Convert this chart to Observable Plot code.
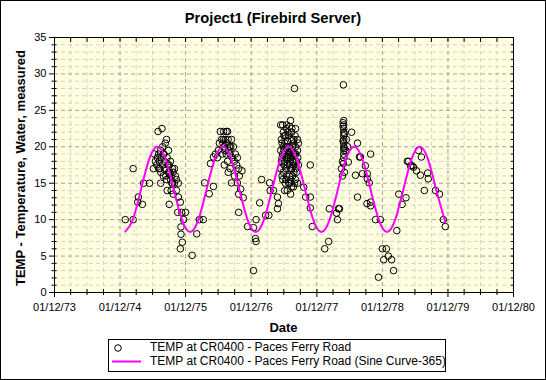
<!DOCTYPE html>
<html><head><meta charset="utf-8">
<script src="https://cdn.jsdelivr.net/npm/d3@7"></script>
<script src="https://cdn.jsdelivr.net/npm/@observablehq/plot@0.6"></script>
<style>
body{margin:0;background:#fff;}
#wrap{position:relative;width:546px;height:380px;overflow:hidden;font-family:"Liberation Sans",Arial,sans-serif;color:#000;}
#chart{position:absolute;left:0;top:0;}
#frame{position:absolute;left:0;top:0;width:546px;height:380px;box-sizing:border-box;border:1px solid #000;pointer-events:none;}
#title{position:absolute;top:10px;left:0;width:546px;text-align:center;font-size:14.7px;font-weight:bold;line-height:17px;}
#ylab{position:absolute;left:20px;top:168px;transform:translate(-50%,-50%) rotate(-90deg);font-size:13px;font-weight:bold;white-space:nowrap;}
#xlab{position:absolute;top:320px;left:283.5px;transform:translateX(-50%);font-size:13px;font-weight:bold;}
#legend{position:absolute;left:108px;top:339px;width:338px;height:33px;box-sizing:border-box;border:1px solid #000;font-size:12px;}
#legend svg{position:absolute;left:0;top:0;}
.lt{position:absolute;left:41px;white-space:nowrap;line-height:13px;}
</style></head>
<body><div id="wrap">
<div id="chart"></div>
<div id="title"></div>
<div id="ylab"></div>
<div id="xlab"></div>
<div id="legend"><svg width="336" height="31"><circle cx="9" cy="8" r="3.3" fill="none" stroke="#000"/><line x1="3" x2="32" y1="21.5" y2="21.5" stroke="#ff00ff" stroke-width="2"/></svg>
<div class="lt" id="l1" style="top:1px"></div><div class="lt" id="l2" style="top:15px"></div></div>
<div id="frame"></div>
</div>
<script>
const titleText = "Project1 (Firebird Server)";
const yLabel = "TEMP - Temperature, Water, measured";
const xLabel = "Date";
const seriesNames = ["TEMP at CR0400 - Paces Ferry Road", "TEMP at CR0400 - Paces Ferry Road (Sine Curve-365)"];
const xTickDates = ["1973-01-12","1974-01-12","1975-01-12","1976-01-12","1977-01-12","1978-01-12","1979-01-12","1980-01-12"];
const xTickLabels = ["01/12/73","01/12/74","01/12/75","01/12/76","01/12/77","01/12/78","01/12/79","01/12/80"];
const yTicks = [0,5,10,15,20,25,30,35];

// measured observations: sample time (decimal year) and temperature
const obsYear = [
1974.11,1974.23,1974.23,1974.30,1974.31,1974.37,1974.39,1974.48,
1974.54,1974.555,1974.57,1974.59,1974.61,1974.60,1974.62,1974.62,1974.63,1974.65,1974.65,1974.65,1974.67,1974.66,1974.68,1974.68,1974.69,1974.69,1974.71,1974.72,1974.72,1974.74,1974.74,1974.75,1974.75,1974.77,1974.77,1974.78,1974.78,1974.80,1974.80,1974.81,1974.81,1974.83,1974.83,1974.84,1974.84,1974.86,1974.86,1974.875,1974.89,1974.89,1974.91,1974.92,1974.92,1974.95,1974.97,1974.96,1974.96,1974.98,1974.95,1975.00,1975.03,
1974.64,1974.70,1974.73,1974.76,1974.79,1974.82,
1975.13,1975.20,1975.24,1975.30,1975.32,1975.39,1975.455,1975.41,1975.455,1975.485,1975.515,1975.53,1975.545,1975.56,1975.58,1975.59,1975.61,1975.61,1975.62,1975.64,1975.65,1975.67,1975.65,1975.67,1975.68,1975.70,1975.71,1975.71,1975.73,1975.745,1975.73,1975.76,1975.775,1975.775,1975.79,1975.82,1975.81,1975.82,1975.84,1975.84,1975.87,1975.89,1975.84,1975.85,1975.91,1975.975,1976.065,1976.095,1976.105,1976.105,1976.065,1976.16,1976.19,1976.25,1976.30,1976.31,1976.32,1976.37,1976.43,1976.445,1976.43,
1975.60,1975.63,1975.66,1975.69,1975.72,1975.62,1975.68,
1976.48,1976.63,1976.69,1976.52,1976.57,1976.60,1976.645,1976.675,1976.705,1976.49,1976.54,1976.58,1976.615,1976.66,1976.705,1976.735,1976.48,1976.51,1976.55,1976.60,1976.63,1976.675,1976.72,1976.75,1976.49,1976.54,1976.58,1976.63,1976.675,1976.72,1976.48,1976.52,1976.57,1976.615,1976.66,1976.705,1976.51,1976.55,1976.60,1976.645,1976.69,1976.54,1976.58,1976.63,1976.735,1976.75,1976.57,1976.615,1976.645,1976.69,1976.52,1976.57,1976.66,1976.615,1976.55,1976.51,1976.735,1976.63,1976.675,1976.58,
1976.50,1976.53,1976.56,1976.59,1976.62,1976.65,1976.68,1976.71,1976.50,1976.53,1976.56,1976.59,1976.62,1976.65,1976.68,1976.71,1976.74,1976.50,1976.56,1976.62,1976.68,1976.53,1976.59,1976.65,1976.70,
1976.83,1976.86,1976.93,1976.93,1976.96,1976.93,
1977.15,1977.21,1977.22,1977.33,1977.345,1977.36,1977.375,1977.405,1977.435,1977.435,1977.44,1977.44,1977.44,1977.44,1977.44,1977.44,1977.44,1977.44,1977.44,1977.44,1977.44,1977.42,1977.45,1977.42,1977.51,1977.56,1977.65,1977.48,1977.50,1977.47,
1977.43,1977.45,1977.43,1977.45,1977.43,
1977.65,1977.62,1977.695,1977.725,1977.68,1977.77,1977.80,1977.80,1977.83,1977.795,1977.85,1977.85,1977.85,1977.925,1978.00,1978.03,1978.09,1978.05,1978.12,1978.17,1978.20,1977.97,1978.25,1978.28,1978.33,1978.39,1978.41,1978.43,1978.46,1978.48,1978.505,1978.55,1978.58,1978.61,1978.625,1978.67,1978.72,1978.73,1978.84,1978.90,1978.96,1978.99
];
const obsTemp = [
10.0,10.0,17.0,12.4,13.1,12.1,15.0,15.0,
17.0,19.0,18.0,17.5,22.1,18.5,19.0,17.0,18.0,19.5,16.5,15.0,22.5,18.5,17.5,20.0,19.0,16.0,18.0,17.0,20.5,21.0,15.5,18.5,14.0,16.5,19.5,12.1,17.5,15.5,18.0,16.0,14.0,17.0,15.0,16.5,13.5,15.0,17.0,16.0,14.0,15.5,11.0,13.1,15.0,12.4,11.0,9.0,8.0,6.9,6.0,10.0,11.0,
17.0,19.0,16.0,17.5,16.5,15.0,
5.1,8.05,10.0,10.0,15.05,13.55,14.55,17.7,18.6,19.0,18.5,19.5,20.5,22.1,21.0,19.0,21.0,22.1,20.0,21.0,22.1,22.1,19.0,18.0,21.0,20.0,19.0,17.0,21.0,18.5,15.05,20.0,18.0,16.0,19.0,15.05,17.5,18.5,17.0,13.5,14.2,16.7,11.0,16.0,13.0,9.05,8.9,7.4,7.0,10.0,3.0,12.3,15.5,10.6,10.6,15.05,14.0,14.0,13.1,12.2,11.5,
20.5,19.5,20.5,19.5,20.0,17.5,16.5,
23.0,23.6,28.0,22.0,22.5,21.5,22.0,21.0,22.5,21.0,20.5,20.0,20.0,20.0,20.0,19.5,19.5,19.0,19.0,19.0,18.5,19.0,18.0,17.5,18.0,18.0,17.5,17.0,17.5,16.5,17.0,16.5,16.0,16.0,16.0,15.5,15.5,15.0,15.0,14.5,15.0,14.0,14.0,13.5,21.0,20.5,23.0,22.8,21.0,19.0,20.0,18.5,18.0,17.5,21.5,23.0,15.0,15.5,14.5,20.8,
20.5,19.5,20.0,19.5,19.0,19.5,20.5,19.0,18.5,17.5,17.0,18.5,18.0,17.0,18.0,17.0,18.5,16.0,15.5,15.0,16.5,21.5,22.0,22.5,21.5,
14.45,13.1,13.1,11.6,9.05,17.5,
6.0,7.0,11.5,10.9,10.0,11.5,11.5,17.0,17.7,28.5,23.6,23.0,22.5,22.0,21.5,21.0,20.5,20.0,19.5,19.0,18.5,18.0,16.5,16.0,17.9,22.0,20.5,21.0,20.0,19.5,
22.8,21.8,20.8,19.8,23.3,
13.1,16.1,18.6,16.3,18.6,17.4,16.3,15.6,15.05,12.2,12.4,11.9,19.0,10.0,10.0,6.0,6.0,4.5,5.0,4.5,3.0,2.1,8.5,13.5,12.1,13.0,18.0,18.0,17.4,17.4,17.2,16.7,19.5,16.1,18.6,14.0,16.4,15.6,14.0,13.5,10.0,9.05
];

// fitted sine curve (decimal year, temperature)
const sineYear = [
1974.11,1974.225,1974.35,1974.475,1974.60,1974.725,1974.85,1974.975,
1975.10,1975.225,1975.35,1975.475,1975.60,1975.725,1975.85,1975.975,
1976.10,1976.225,1976.35,1976.475,1976.60,1976.725,1976.85,1976.975,
1977.10,1977.225,1977.35,1977.475,1977.60,1977.725,1977.85,1977.975,
1978.10,1978.225,1978.35,1978.475,1978.60,1978.725,1978.85,1978.99];
const sineTemp = [
8.35,10.0,14.15,18.3,20.0,18.3,14.15,10.0,
8.3,10.0,14.15,18.3,20.0,18.3,14.15,10.0,
8.3,10.0,14.15,18.3,20.0,18.3,14.15,10.0,
8.3,10.0,14.15,18.3,20.0,18.3,14.15,10.0,
8.3,10.0,14.15,18.3,20.0,18.3,14.15,9.65];

function fromYear(y){const yr=Math.floor(y);const s=Date.UTC(yr,0,1),e=Date.UTC(yr+1,0,1);return new Date(s+(y-yr)*(e-s));}
const obs = obsYear.map((y,i)=>({date:fromYear(y),temp:obsTemp[i]}));
const sine = sineYear.map((y,i)=>({date:fromYear(y),temp:sineTemp[i]}));
const majorX = xTickDates.map(d=>new Date(d+"T00:00:00Z"));
const labelOf = new Map(majorX.map((d,i)=>[+d,xTickLabels[i]]));
const minorX = [];
majorX.slice(0,-1).forEach(d=>{[3,6,9].forEach(m=>minorX.push(d3.utcMonth.offset(d,m)));});
const minorY = d3.range(0,36).filter(v=>v%5!==0);
const innerMajorY = yTicks.filter(v=>v>0&&v<35);
const innerMajorX = majorX.slice(1,-1);
const allY = d3.range(0,36);
const allX = [...majorX,...minorX];
const blank = ()=>"";
const dash = "4,3";

const chart = Plot.plot({
  width:546, height:380,
  marginLeft:54, marginRight:33, marginTop:37, marginBottom:88,
  style:{fontFamily:"Liberation Sans, Arial, sans-serif",fontSize:"11px",background:"transparent",color:"#000"},
  x:{type:"utc",domain:[majorX[0],majorX[majorX.length-1]]},
  y:{domain:[0,35]},
  marks:[
    Plot.frame({fill:"#FFFFE0",stroke:null}),
    Plot.ruleY(minorY,{stroke:"#d2d2d2",strokeDasharray:dash}),
    Plot.ruleX(minorX,{stroke:"#d2d2d2",strokeDasharray:dash}),
    Plot.ruleY(innerMajorY,{stroke:"#a0a0a0",strokeDasharray:dash}),
    Plot.ruleX(innerMajorX,{stroke:"#a0a0a0",strokeDasharray:dash}),
    Plot.dot(obs,{x:"date",y:"temp",r:3.3,stroke:"#000",fill:"none",strokeWidth:1}),
    Plot.line(sine,{x:"date",y:"temp",curve:"natural",stroke:"#ff00ff",strokeWidth:2}),
    Plot.frame({stroke:"#000"}),
    Plot.axisY(minorY,{anchor:"left",tickSize:5,dx:2.5,tickFormat:blank,label:null}),
    Plot.axisY(yTicks,{anchor:"left",tickSize:5,tickFormat:blank,label:null}),
    Plot.axisY(yTicks,{anchor:"left",tickSize:0,tickPadding:8,label:null,fontSize:11}),
    Plot.axisY(allY,{anchor:"right",tickSize:3,dx:-3,tickFormat:blank,label:null}),
    Plot.axisX(allX,{anchor:"top",tickSize:4,dy:4,tickFormat:blank,label:null}),
    Plot.axisX(minorX,{anchor:"bottom",tickSize:6,dy:-3,tickFormat:blank,label:null}),
    Plot.axisX(majorX,{anchor:"bottom",tickSize:8,dy:-3,tickFormat:blank,label:null}),
    Plot.axisX(majorX,{anchor:"bottom",tickSize:0,tickPadding:11,tickFormat:d=>labelOf.get(+d),label:null,fontSize:11})
  ]
});
document.getElementById("chart").appendChild(chart);
document.getElementById("title").textContent = titleText;
document.getElementById("ylab").textContent = yLabel;
document.getElementById("xlab").textContent = xLabel;
document.getElementById("l1").textContent = seriesNames[0];
document.getElementById("l2").textContent = seriesNames[1];
</script>
</body></html>
